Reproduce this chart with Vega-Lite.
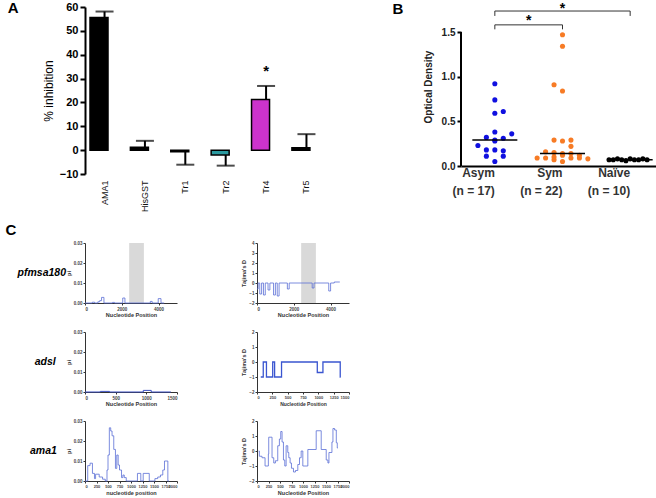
{
  "$schema": "https://vega.github.io/schema/vega-lite/v6.json",
  "background": "white",
  "padding": {"left": 5, "top": 1, "right": 0, "bottom": 0},
  "config": {"font": "Liberation Sans", "view": {"stroke": null}, "axis": {"grid": false, "labelOverlap": false}, "axisY": {"labelOverlap": false}, "axisQuantitative": {"labelOverlap": false}},
  "spacing": 11,
  "vconcat": [
    {
      "resolve": {"scale": {"color": "independent"}},
      "hconcat": [
        {
          "width": 241,
          "height": 167,
          "title": {"text": "A", "orient": "left", "angle": 0, "anchor": "end", "align": "right", "baseline": "top", "offset": 13, "fontSize": 15, "fontWeight": "bold", "color": "black"},
          "data": {"values": [
            {"name": "AMA1", "value": 55.6, "err": 58.1},
            {"name": "HisGST", "value": 1.2, "err": 3.9},
            {"name": "Tr1", "value": -0.7, "err": -6.1},
            {"name": "Tr2", "value": -2.0, "err": -6.5},
            {"name": "Tr4", "value": 21.2, "err": 26.9},
            {"name": "Tr5", "value": 1.0, "err": 6.7}
          ]},
          "encoding": {
            "x": {"field": "name", "type": "nominal", "sort": null,
              "scale": {"paddingInner": 0.28, "paddingOuter": 0.124},
              "axis": {"title": null, "labelAngle": -90, "labelFontSize": 9, "labelColor": "#111", "domain": false, "ticks": false, "labelPadding": 6}}
          },
          "layer": [
            {"mark": {"type": "rule", "strokeWidth": 2, "color": "black"},
             "encoding": {
               "y": {"field": "value", "type": "quantitative", "title": "% inhibition",
                 "scale": {"domain": [-10, 60], "nice": false},
                 "axis": {"values": [-10, 0, 10, 20, 30, 40, 50, 60], "labelOverlap": false, "labelFontSize": 11, "labelFontWeight": "bold", "labelColor": "black", "labelPadding": 2, "domainColor": "black", "domainWidth": 2, "tickColor": "black", "tickWidth": 2, "tickSize": 5, "titleFontSize": 12, "titleFontWeight": "normal", "titleColor": "black", "titlePadding": 4}},
               "y2": {"field": "err"}}},
            {"mark": {"type": "tick", "thickness": 2, "size": 18, "color": "black"},
             "encoding": {"y": {"field": "err", "type": "quantitative", "title": "% inhibition",
                 "scale": {"domain": [-10, 60], "nice": false},
                 "axis": {"values": [-10, 0, 10, 20, 30, 40, 50, 60], "labelOverlap": false, "labelFontSize": 11, "labelFontWeight": "bold", "labelColor": "black", "labelPadding": 2, "domainColor": "black", "domainWidth": 2, "tickColor": "black", "tickWidth": 2, "tickSize": 5, "titleFontSize": 12, "titleFontWeight": "normal", "titleColor": "black", "titlePadding": 4}}}},
            {"mark": {"type": "bar", "stroke": "black", "strokeWidth": 1.5},
             "encoding": {
               "y": {"field": "value", "type": "quantitative", "title": "% inhibition",
                 "scale": {"domain": [-10, 60], "nice": false},
                 "axis": {"values": [-10, 0, 10, 20, 30, 40, 50, 60], "labelOverlap": false, "labelFontSize": 11, "labelFontWeight": "bold", "labelColor": "black", "labelPadding": 2, "domainColor": "black", "domainWidth": 2, "tickColor": "black", "tickWidth": 2, "tickSize": 5, "titleFontSize": 12, "titleFontWeight": "normal", "titleColor": "black", "titlePadding": 4}},
               "y2": {"datum": 0},
               "color": {"field": "name", "type": "nominal", "legend": null,
                 "scale": {"domain": ["AMA1", "HisGST", "Tr1", "Tr2", "Tr4", "Tr5"], "range": ["#000000", "#000000", "#000000", "#2b9aa0", "#cc33cc", "#000000"]}}}},
            {"mark": {"type": "rule", "strokeWidth": 2, "color": "black"},
             "encoding": {"y": {"datum": 0, "type": "quantitative", "title": "% inhibition",
                 "scale": {"domain": [-10, 60], "nice": false},
                 "axis": {"values": [-10, 0, 10, 20, 30, 40, 50, 60], "labelOverlap": false, "labelFontSize": 11, "labelFontWeight": "bold", "labelColor": "black", "labelPadding": 2, "domainColor": "black", "domainWidth": 2, "tickColor": "black", "tickWidth": 2, "tickSize": 5, "titleFontSize": 12, "titleFontWeight": "normal", "titleColor": "black", "titlePadding": 4}}}},
            {"transform": [{"filter": "datum.name == 'Tr4'"}],
             "mark": {"type": "text", "text": "*", "fontSize": 15, "fontWeight": "bold", "baseline": "middle"},
             "encoding": {"y": {"datum": 33, "type": "quantitative", "title": "% inhibition",
                 "scale": {"domain": [-10, 60], "nice": false},
                 "axis": {"values": [-10, 0, 10, 20, 30, 40, 50, 60], "labelOverlap": false, "labelFontSize": 11, "labelFontWeight": "bold", "labelColor": "black", "labelPadding": 2, "domainColor": "black", "domainWidth": 2, "tickColor": "black", "tickWidth": 2, "tickSize": 5, "titleFontSize": 12, "titleFontWeight": "normal", "titleColor": "black", "titlePadding": 4}}}}
          ]
        },
        {
          "width": 203,
          "height": 159,
          "title": {"text": "B", "orient": "left", "angle": 0, "anchor": "end", "align": "right", "baseline": "top", "offset": 9, "fontSize": 15, "fontWeight": "bold", "color": "black"},
          "layer": [
            {
              "data": {"values": [{"g": "Asym", "lo": 0, "hi": 1.5}]},
              "mark": {"type": "rule", "strokeWidth": 2, "color": "black"},
              "encoding": {
                "x": {"field": "g", "type": "nominal", "bandPosition": 0, "scale": {"domain": ["Asym", "Sym", "Naïve"], "padding": 0}},
                "y": {"field": "lo", "type": "quantitative", "title": "Optical Density"},
                "y2": {"field": "hi"}
              }
            },
            {
              "data": {"values": [
                {"group": "Asym", "od": 0.92, "k": 0}, {"group": "Asym", "od": 0.74, "k": 0}, {"group": "Asym", "od": 0.61, "k": 2},
                {"group": "Asym", "od": 0.59, "k": 0}, {"group": "Asym", "od": 0.38, "k": 0}, {"group": "Asym", "od": 0.36, "k": 4},
                {"group": "Asym", "od": 0.32, "k": -2}, {"group": "Asym", "od": 0.31, "k": 2}, {"group": "Asym", "od": 0.29, "k": 0},
                {"group": "Asym", "od": 0.28, "k": 0}, {"group": "Asym", "od": 0.23, "k": -4}, {"group": "Asym", "od": 0.18, "k": -2},
                {"group": "Asym", "od": 0.18, "k": 0}, {"group": "Asym", "od": 0.17, "k": 2}, {"group": "Asym", "od": 0.11, "k": -2},
                {"group": "Asym", "od": 0.11, "k": 2}, {"group": "Asym", "od": 0.05, "k": 0},
                {"group": "Sym", "od": 1.47, "k": 0}, {"group": "Sym", "od": 1.34, "k": 0}, {"group": "Sym", "od": 0.91, "k": -2},
                {"group": "Sym", "od": 0.84, "k": 0}, {"group": "Sym", "od": 0.29, "k": -2}, {"group": "Sym", "od": 0.28, "k": 0},
                {"group": "Sym", "od": 0.29, "k": 2}, {"group": "Sym", "od": 0.22, "k": 2}, {"group": "Sym", "od": 0.16, "k": -4},
                {"group": "Sym", "od": 0.15, "k": -2}, {"group": "Sym", "od": 0.14, "k": 0}, {"group": "Sym", "od": 0.14, "k": 2},
                {"group": "Sym", "od": 0.12, "k": 4}, {"group": "Sym", "od": 0.12, "k": 0}, {"group": "Sym", "od": 0.09, "k": -6},
                {"group": "Sym", "od": 0.09, "k": -4}, {"group": "Sym", "od": 0.10, "k": -2}, {"group": "Sym", "od": 0.09, "k": 2},
                {"group": "Sym", "od": 0.09, "k": 4}, {"group": "Sym", "od": 0.08, "k": 6}, {"group": "Sym", "od": 0.07, "k": -2},
                {"group": "Sym", "od": 0.05, "k": 0},
                {"group": "Naïve", "od": 0.07, "k": -5}, {"group": "Naïve", "od": 0.07, "k": -4}, {"group": "Naïve", "od": 0.08, "k": -3},
                {"group": "Naïve", "od": 0.07, "k": -2}, {"group": "Naïve", "od": 0.06, "k": -1}, {"group": "Naïve", "od": 0.08, "k": 0},
                {"group": "Naïve", "od": 0.07, "k": 1}, {"group": "Naïve", "od": 0.07, "k": 2}, {"group": "Naïve", "od": 0.08, "k": 3},
                {"group": "Naïve", "od": 0.07, "k": 4}
              ]},
              "layer": [
                {"mark": {"type": "circle", "size": 26, "opacity": 1},
                 "encoding": {
                   "x": {"field": "group", "type": "nominal", "scale": {"domain": ["Asym", "Sym", "Naïve"], "padding": 0},
                     "axis": {"title": null, "labelAngle": 0, "labelFontSize": 12, "labelFontWeight": "bold", "labelColor": "#333", "domainColor": "black", "domainWidth": 2, "ticks": false, "labelPadding": 6, "labelLineHeight": 18,
                       "labelExpr": "datum.value == 'Asym' ? ['Asym', '(n = 17)'] : datum.value == 'Sym' ? ['Sym', '(n = 22)'] : ['Naïve', '(n = 10)']"}},
                   "xOffset": {"field": "k", "type": "ordinal", "scale": {"domain": [-8, -7, -6, -5, -4, -3, -2, -1, 0, 1, 2, 3, 4, 5, 6, 7, 8], "paddingInner": 0, "paddingOuter": 0}},
                   "y": {"field": "od", "type": "quantitative", "title": "Optical Density",
                     "scale": {"domain": [0, 1.78], "nice": false},
                     "axis": {"values": [0, 0.5, 1, 1.5], "format": ".1f", "domain": false, "labelFontSize": 10, "labelFontWeight": "bold", "labelColor": "#222", "labelPadding": 2, "tickColor": "black", "tickWidth": 2, "tickSize": 4, "titleFontSize": 10, "titleFontWeight": "bold", "titleColor": "#222", "titlePadding": 8}},
                   "color": {"field": "group", "type": "nominal", "legend": null,
                     "scale": {"domain": ["Asym", "Sym", "Naïve"], "range": ["#1010e0", "#f77b25", "#000000"]}}
                 }},
                {"mark": {"type": "tick", "thickness": 1.5, "size": 45, "color": "black"},
                 "encoding": {
                   "x": {"field": "group", "type": "nominal", "scale": {"domain": ["Asym", "Sym", "Naïve"], "padding": 0}},
                   "y": {"aggregate": "median", "field": "od", "type": "quantitative", "title": "Optical Density"}
                 }}
              ]
            },
            {
              "data": {"values": [
                {"from": "Asym", "to": "Naïve", "level": 1.735},
                {"from": "Asym", "to": "Sym", "level": 1.58}
              ]},
              "mark": {"type": "rule", "strokeWidth": 1, "color": "#333"},
              "encoding": {
                "x": {"field": "from", "type": "nominal", "bandPosition": 0.5, "scale": {"domain": ["Asym", "Sym", "Naïve"], "padding": 0}},
                "x2": {"field": "to", "bandPosition": 0.5},
                "y": {"field": "level", "type": "quantitative", "title": "Optical Density"}
              }
            },
            {
              "data": {"values": [
                {"at": "Asym", "top": 1.735, "bottom": 1.68},
                {"at": "Naïve", "top": 1.735, "bottom": 1.68},
                {"at": "Asym", "top": 1.58, "bottom": 1.53},
                {"at": "Sym", "top": 1.58, "bottom": 1.53}
              ]},
              "mark": {"type": "rule", "strokeWidth": 1, "color": "#333"},
              "encoding": {
                "x": {"field": "at", "type": "nominal", "bandPosition": 0.5, "scale": {"domain": ["Asym", "Sym", "Naïve"], "padding": 0}},
                "y": {"field": "top", "type": "quantitative", "title": "Optical Density"},
                "y2": {"field": "bottom"}
              }
            },
            {
              "data": {"values": [{"at": "Sym", "level": 1.76}]},
              "mark": {"type": "text", "text": "*", "fontSize": 14, "fontWeight": "bold", "baseline": "middle"},
              "encoding": {
                "x": {"field": "at", "type": "nominal", "bandPosition": 0.5, "scale": {"domain": ["Asym", "Sym", "Naïve"], "padding": 0}},
                "y": {"field": "level", "type": "quantitative", "title": "Optical Density"}
              }
            },
            {
              "data": {"values": [{"at": "Sym", "level": 1.62}]},
              "mark": {"type": "text", "text": "*", "fontSize": 14, "fontWeight": "bold", "baseline": "middle"},
              "encoding": {
                "x": {"field": "at", "type": "nominal", "bandPosition": 0, "scale": {"domain": ["Asym", "Sym", "Naïve"], "padding": 0}},
                "y": {"field": "level", "type": "quantitative", "title": "Optical Density"}
              }
            }
          ]
        }
      ],
      "spacing": 66
    },
    {
      "columns": 2,
      "bounds": "flush",
      "spacing": {"row": 29, "column": 80},
      "title": {"text": "C", "anchor": "start", "frame": "bounds", "fontSize": 15, "fontWeight": "bold", "dx": -12, "offset": 2, "color": "black"},
      "concat": [
        {
          "width": 92, "height": 60,
          "title": {"text": "pfmsa180", "orient": "left", "angle": 0, "align": "center", "baseline": "middle", "anchor": "middle", "offset": -24, "fontSize": 10.5, "fontStyle": "italic", "fontWeight": "bold", "color": "black"},
          "layer": [
            {"data": {"values": [{"start": 2400, "end": 3200}]},
             "mark": {"type": "rect", "color": "#d9d9d9"},
             "encoding": {"x": {"field": "start", "type": "quantitative"}, "x2": {"field": "end"}}},
            {"data": {"values": [
               {"pos": 0, "v": 0}, {"pos": 400, "v": 0.0004}, {"pos": 520, "v": 0}, {"pos": 700, "v": 0.0006}, {"pos": 800, "v": 0.0012},
               {"pos": 900, "v": 0.0028}, {"pos": 1030, "v": 0}, {"pos": 1500, "v": 0.0003}, {"pos": 1600, "v": 0}, {"pos": 2050, "v": 0.0025},
               {"pos": 2170, "v": 0}, {"pos": 3550, "v": 0.0008}, {"pos": 3650, "v": 0}, {"pos": 3980, "v": 0.0022}, {"pos": 4130, "v": 0}, {"pos": 4300, "v": 0}
             ]},
             "mark": {"type": "line", "interpolate": "step-after", "color": "#5b6fd6", "strokeWidth": 0.8},
             "encoding": {
               "x": {"field": "pos", "type": "quantitative", "title": "Nucleotide Position", "scale": {"domain": [0, 5000], "nice": false},
                 "axis": {"values": [0, 1000, 2000, 3000, 4000, 5000], "format": "d", "labelFontSize": 4.5, "labelFontWeight": "bold", "labelColor": "#444", "titleFontSize": 5.5, "titleFontWeight": "bold", "titleColor": "#333", "domainColor": "#333", "tickColor": "#333", "tickSize": 2, "labelPadding": 1, "titlePadding": 2}},
               "y": {"field": "v", "type": "quantitative", "title": "pi", "scale": {"domain": [0, 0.03], "nice": false},
                 "axis": {"values": [0, 0.01, 0.02, 0.03], "format": ".2f", "labelFontSize": 4.5, "labelFontWeight": "bold", "labelColor": "#444", "titleFontSize": 5.5, "titleFontWeight": "bold", "titleColor": "#333", "domainColor": "#333", "tickColor": "#333", "tickSize": 2, "labelPadding": 1, "titlePadding": 2}}
             }}
          ]
        },
        {
          "width": 92, "height": 60,
          "layer": [
            {"data": {"values": [{"start": 2400, "end": 3200}]},
             "mark": {"type": "rect", "color": "#d9d9d9"},
             "encoding": {"x": {"field": "start", "type": "quantitative"}, "x2": {"field": "end"}}},
            {"data": {"values": [
               {"pos": 0, "v": -0.6}, {"pos": 60, "v": 0}, {"pos": 150, "v": -1.1}, {"pos": 250, "v": 0}, {"pos": 350, "v": -1.2}, {"pos": 450, "v": 0},
               {"pos": 600, "v": -0.7}, {"pos": 700, "v": 0}, {"pos": 900, "v": -1.2}, {"pos": 1000, "v": 0}, {"pos": 1100, "v": -1.3}, {"pos": 1200, "v": 0},
               {"pos": 1650, "v": -0.6}, {"pos": 1750, "v": 0}, {"pos": 3000, "v": -0.5}, {"pos": 3100, "v": 0}, {"pos": 3900, "v": -0.8}, {"pos": 4000, "v": 0},
               {"pos": 4200, "v": 0.1}, {"pos": 4500, "v": 0.1}
             ]},
             "mark": {"type": "line", "interpolate": "step-after", "color": "#5b6fd6", "strokeWidth": 0.8},
             "encoding": {
               "x": {"field": "pos", "type": "quantitative", "title": "Nucleotide Position", "scale": {"domain": [0, 5000], "nice": false},
                 "axis": {"values": [0, 1000, 2000, 3000, 4000, 5000], "format": "d", "labelFontSize": 4.5, "labelFontWeight": "bold", "labelColor": "#444", "titleFontSize": 5.5, "titleFontWeight": "bold", "titleColor": "#333", "domainColor": "#333", "tickColor": "#333", "tickSize": 2, "labelPadding": 1, "titlePadding": 2}},
               "y": {"field": "v", "type": "quantitative", "title": "Tajima's D", "scale": {"domain": [-2, 4], "nice": false},
                 "axis": {"values": [-2, -1, 0, 1, 2, 3, 4], "labelFontSize": 4.5, "labelFontWeight": "bold", "labelColor": "#444", "titleFontSize": 5.5, "titleFontWeight": "bold", "titleColor": "#333", "domainColor": "#333", "tickColor": "#333", "tickSize": 2, "labelPadding": 1, "titlePadding": 2}}
             }}
          ]
        },
        {
          "width": 92, "height": 60,
          "title": {"text": "adsl", "orient": "left", "angle": 0, "align": "center", "baseline": "middle", "anchor": "middle", "offset": 0, "fontSize": 10.5, "fontStyle": "italic", "fontWeight": "bold", "color": "black"},
          "data": {"values": [
            {"pos": 0, "v": 0}, {"pos": 250, "v": 0.0003}, {"pos": 400, "v": 0}, {"pos": 950, "v": 0.0008}, {"pos": 1080, "v": 0}, {"pos": 1400, "v": 0}
          ]},
          "mark": {"type": "line", "interpolate": "step-after", "color": "#3a4fc0", "strokeWidth": 1},
          "encoding": {
            "x": {"field": "pos", "type": "quantitative", "title": "Nucleotide Position", "scale": {"domain": [0, 1500], "nice": false},
              "axis": {"values": [0, 500, 1000, 1500], "format": "d", "labelFontSize": 4.5, "labelFontWeight": "bold", "labelColor": "#444", "titleFontSize": 5.5, "titleFontWeight": "bold", "titleColor": "#333", "domainColor": "#333", "tickColor": "#333", "tickSize": 2, "labelPadding": 1, "titlePadding": 2}},
            "y": {"field": "v", "type": "quantitative", "title": "pi", "scale": {"domain": [0, 0.03], "nice": false},
              "axis": {"values": [0, 0.01, 0.02, 0.03], "format": ".2f", "labelFontSize": 4.5, "labelFontWeight": "bold", "labelColor": "#444", "titleFontSize": 5.5, "titleFontWeight": "bold", "titleColor": "#333", "domainColor": "#333", "tickColor": "#333", "tickSize": 2, "labelPadding": 1, "titlePadding": 2}}
          }
        },
        {
          "width": 92, "height": 60,
          "data": {"values": [
            {"pos": 61, "v": -1}, {"pos": 102, "v": 0}, {"pos": 154, "v": -1}, {"pos": 256, "v": 0}, {"pos": 287, "v": -1}, {"pos": 400, "v": 0},
            {"pos": 983, "v": -0.7}, {"pos": 1075, "v": 0}, {"pos": 1357, "v": -1}, {"pos": 1365, "v": -1}
          ]},
          "mark": {"type": "line", "interpolate": "step-after", "color": "#3a55d0", "strokeWidth": 1.3},
          "encoding": {
            "x": {"field": "pos", "type": "quantitative", "title": "Nucleotide Position", "scale": {"domain": [0, 1500], "nice": false},
              "axis": {"values": [0, 250, 500, 750, 1000, 1250, 1500], "format": "d", "labelFontSize": 4, "labelFontWeight": "bold", "labelColor": "#444", "titleFontSize": 5, "titleFontWeight": "bold", "titleColor": "#333", "domainColor": "#333", "tickColor": "#333", "tickSize": 2, "labelPadding": 1, "titlePadding": 2}},
            "y": {"field": "v", "type": "quantitative", "title": "Tajima's D", "scale": {"domain": [-2, 2], "nice": false},
              "axis": {"values": [-2, -1, 0, 1, 2], "labelFontSize": 4.5, "labelFontWeight": "bold", "labelColor": "#444", "titleFontSize": 5.5, "titleFontWeight": "bold", "titleColor": "#333", "domainColor": "#333", "tickColor": "#333", "tickSize": 2, "labelPadding": 1, "titlePadding": 2}}
          }
        },
        {
          "width": 92, "height": 60,
          "title": {"text": "ama1", "orient": "left", "angle": 0, "align": "center", "baseline": "middle", "anchor": "middle", "offset": -4, "fontSize": 10.5, "fontStyle": "italic", "fontWeight": "bold", "color": "black"},
          "data": {"values": [
            {"pos": 0, "v": 0}, {"pos": 59, "v": 0.0077}, {"pos": 110, "v": 0.0089}, {"pos": 162, "v": 0.0038}, {"pos": 206, "v": 0.0012},
            {"pos": 230, "v": 0.0034}, {"pos": 309, "v": 0.002}, {"pos": 382, "v": 0.0009}, {"pos": 441, "v": 0}, {"pos": 478, "v": 0.0055},
            {"pos": 500, "v": 0.013}, {"pos": 529, "v": 0.0266}, {"pos": 559, "v": 0.025}, {"pos": 588, "v": 0.0226}, {"pos": 625, "v": 0.0158},
            {"pos": 662, "v": 0.0063}, {"pos": 691, "v": 0.013}, {"pos": 721, "v": 0.008}, {"pos": 750, "v": 0.0055}, {"pos": 794, "v": 0.0017},
            {"pos": 824, "v": 0.003}, {"pos": 853, "v": 0.0017}, {"pos": 897, "v": 0}, {"pos": 1140, "v": 0.0038}, {"pos": 1213, "v": 0},
            {"pos": 1265, "v": 0.0038}, {"pos": 1397, "v": 0}, {"pos": 1520, "v": 0.0012}, {"pos": 1581, "v": 0.002}, {"pos": 1640, "v": 0.003},
            {"pos": 1691, "v": 0.0055}, {"pos": 1728, "v": 0.01}, {"pos": 1801, "v": 0}, {"pos": 1824, "v": 0}
          ]},
          "mark": {"type": "line", "interpolate": "step-after", "color": "#5b6fd6", "strokeWidth": 0.8},
          "encoding": {
            "x": {"field": "pos", "type": "quantitative", "title": "nucleotide position", "scale": {"domain": [0, 2000], "nice": false},
              "axis": {"values": [0, 250, 500, 750, 1000, 1250, 1500, 1750, 2000], "format": "d", "labelFontSize": 4, "labelFontWeight": "bold", "labelColor": "#444", "titleFontSize": 5.5, "titleFontWeight": "bold", "titleColor": "#333", "domainColor": "#333", "tickColor": "#333", "tickSize": 2, "labelPadding": 1, "titlePadding": 2}},
            "y": {"field": "v", "type": "quantitative", "title": "pi", "scale": {"domain": [0, 0.03], "nice": false},
              "axis": {"values": [0, 0.01, 0.02, 0.03], "format": ".2f", "labelFontSize": 4.5, "labelFontWeight": "bold", "labelColor": "#444", "titleFontSize": 5.5, "titleFontWeight": "bold", "titleColor": "#333", "domainColor": "#333", "tickColor": "#333", "tickSize": 2, "labelPadding": 1, "titlePadding": 2}}
          }
        },
        {
          "width": 92, "height": 60,
          "data": {"values": [
            {"pos": 36, "v": 0}, {"pos": 51, "v": -0.35}, {"pos": 109, "v": -0.45}, {"pos": 175, "v": -1}, {"pos": 247, "v": -0.2},
            {"pos": 255, "v": 0.92}, {"pos": 327, "v": -0.45}, {"pos": 364, "v": -0.8}, {"pos": 400, "v": -0.65}, {"pos": 451, "v": 0.35},
            {"pos": 487, "v": 0.8}, {"pos": 516, "v": 1.3}, {"pos": 545, "v": 0.6}, {"pos": 575, "v": -0.6}, {"pos": 604, "v": -1},
            {"pos": 633, "v": 0.35}, {"pos": 669, "v": -0.1}, {"pos": 691, "v": -0.45}, {"pos": 720, "v": -0.8}, {"pos": 749, "v": -1.15},
            {"pos": 793, "v": -1.4}, {"pos": 836, "v": -1.3}, {"pos": 887, "v": -0.9}, {"pos": 924, "v": -0.45}, {"pos": 960, "v": 0},
            {"pos": 996, "v": -1}, {"pos": 1105, "v": 0.1}, {"pos": 1287, "v": 1.35}, {"pos": 1396, "v": 0.1}, {"pos": 1505, "v": -0.6},
            {"pos": 1542, "v": -0.8}, {"pos": 1564, "v": -0.1}, {"pos": 1629, "v": 0.6}, {"pos": 1651, "v": 1.5}, {"pos": 1687, "v": 1.4},
            {"pos": 1724, "v": 0.55}, {"pos": 1745, "v": 0.2}, {"pos": 1760, "v": 0.2}
          ]},
          "mark": {"type": "line", "interpolate": "step-after", "color": "#5b6fd6", "strokeWidth": 0.8},
          "encoding": {
            "x": {"field": "pos", "type": "quantitative", "title": "Nucleotide Position", "scale": {"domain": [0, 2000], "nice": false},
              "axis": {"values": [0, 250, 500, 750, 1000, 1250, 1500, 1750, 2000], "format": "d", "labelFontSize": 4, "labelFontWeight": "bold", "labelColor": "#444", "titleFontSize": 5.5, "titleFontWeight": "bold", "titleColor": "#333", "domainColor": "#333", "tickColor": "#333", "tickSize": 2, "labelPadding": 1, "titlePadding": 2}},
            "y": {"field": "v", "type": "quantitative", "title": "Tajima's D", "scale": {"domain": [-2, 2], "nice": false},
              "axis": {"values": [-2, -1, 0, 1, 2], "labelFontSize": 4.5, "labelFontWeight": "bold", "labelColor": "#444", "titleFontSize": 5.5, "titleFontWeight": "bold", "titleColor": "#333", "domainColor": "#333", "tickColor": "#333", "tickSize": 2, "labelPadding": 1, "titlePadding": 2}}
          }
        }
      ]
    }
  ]
}
